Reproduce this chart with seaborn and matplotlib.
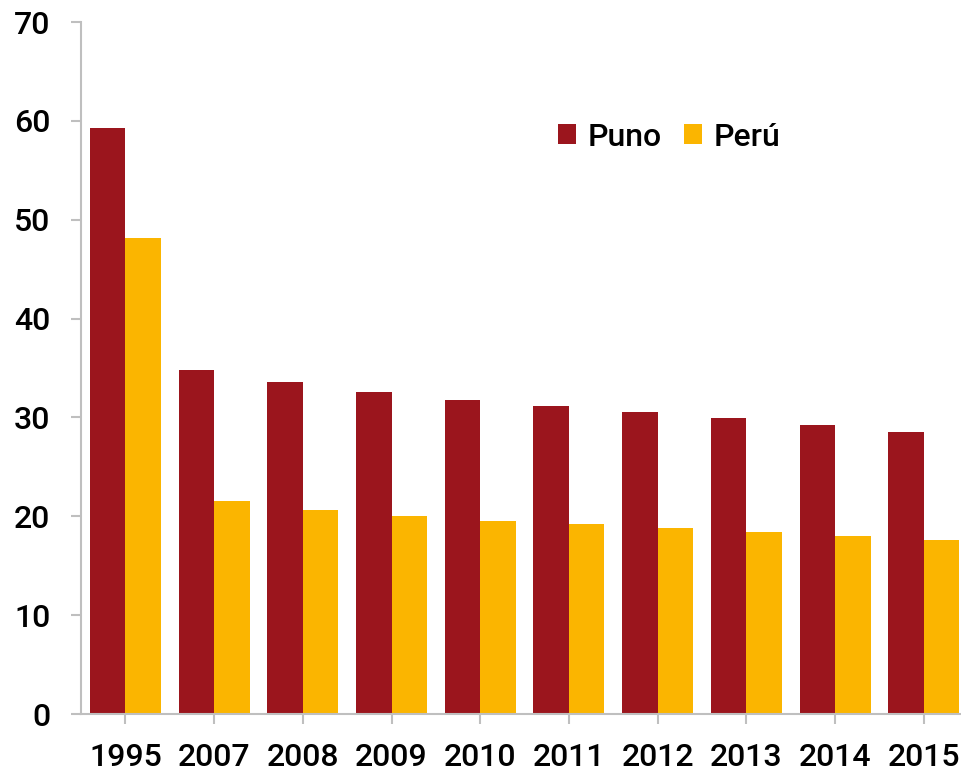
import matplotlib
matplotlib.use("Agg")
import matplotlib.pyplot as plt
import seaborn as sns
import pandas as pd

years = ["1995", "2007", "2008", "2009", "2010", "2011", "2012", "2013", "2014", "2015"]
puno = [59.3, 34.8, 33.6, 32.6, 31.8, 31.2, 30.5, 29.9, 29.2, 28.5]
peru = [48.1, 21.5, 20.6, 20.0, 19.5, 19.2, 18.8, 18.4, 18.0, 17.6]
series = ["Puno", "Perú"]
colors = ["#9b151d", "#fbb500"]
yticks = [0, 10, 20, 30, 40, 50, 60, 70]

df = pd.DataFrame({
    "year": years * 2,
    "value": puno + peru,
    "serie": [series[0]] * len(years) + [series[1]] * len(years),
})

sns.set_style("white")
plt.rcParams['font.family'] = ['Roboto', 'DejaVu Sans']
plt.rcParams['text.color'] = 'black'

FS = 23
W = "medium"

fig = plt.figure(figsize=(9.62, 7.74), dpi=100)
ax = fig.add_axes([81 / 962, 60 / 774, 1 - 81 / 962, (714 - 22) / 774])

sns.barplot(data=df, x="year", y="value", hue="serie", palette=colors,
            width=0.8, saturation=1, ax=ax, linewidth=0, edgecolor="none")

ax.set_ylim(0, 70)
ax.set_xlim(-0.5, 9.43)
ax.set_yticks(yticks)
ax.set_yticklabels([str(v) for v in yticks])
ax.set_xlabel("")
ax.set_ylabel("")

for s in ["top", "right"]:
    ax.spines[s].set_visible(False)
for s in ["left", "bottom"]:
    ax.spines[s].set_color("#bfbfbf")
    ax.spines[s].set_linewidth(1.5)

ax.tick_params(axis="y", length=7, width=1.5, color="#bfbfbf", pad=15,
               labelsize=FS, left=True, labelcolor="black")
ax.tick_params(axis="x", length=7, width=1.5, color="#bfbfbf", pad=14,
               labelsize=FS, bottom=True, labelcolor="black")
for lab in ax.get_xticklabels() + ax.get_yticklabels():
    lab.set_fontweight(W)

leg = ax.legend(title=None, frameon=False, ncol=2, loc="center left",
                bbox_to_anchor=(558 / 962, 1 - 137 / 774), bbox_transform=fig.transFigure,
                handlelength=0.57, handleheight=0.57, handletextpad=0.35,
                columnspacing=0.7, borderaxespad=0, borderpad=0,
                prop={"size": FS, "weight": W})
for t in leg.get_texts():
    t.set_color("black")

fig.savefig("out.png", dpi=100)
